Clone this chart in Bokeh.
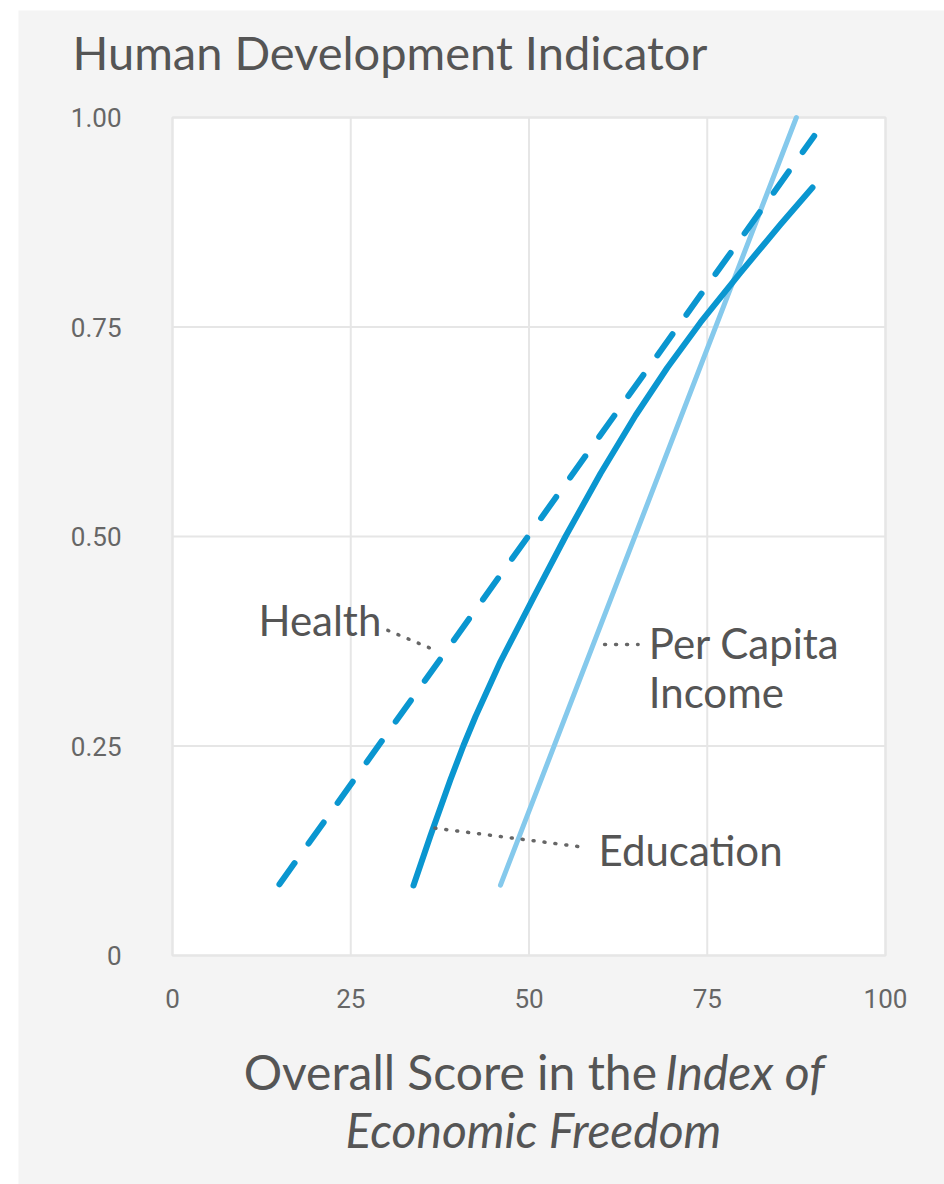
from bokeh.plotting import figure
from bokeh.models import Range1d, FixedTicker, LinearAxis, Spacer
from bokeh.layouts import column, row
from bokeh.core.properties import value
from bokeh.embed import file_html
from bokeh.resources import INLINE

# ---- data ----
x_ticks = [0, 25, 50, 75, 100]
y_ticks = [0, 0.25, 0.5, 0.75, 1.0]
y_tick_labels = ["0", "0.25", "0.50", "0.75", "1.00"]

health_x = [15.0, 90.0]
health_y = [0.085, 0.978]

education_x = [33.80, 36.19, 38.99, 40.81, 42.50, 46.00, 50.63, 55.12, 60.03, 64.94, 69.42, 74.05, 79.66, 85.27, 89.76]
education_y = [0.0835, 0.1432, 0.2100, 0.2506, 0.2852, 0.3508, 0.4272, 0.5000, 0.5752, 0.6444, 0.7017, 0.7554, 0.8150, 0.8723, 0.9165]

income_x = [46.0, 87.5]
income_y = [0.084, 1.0]

label_text = ["Health", "Education", "Per Capita", "Income"]
label_x = [12.06, 59.75, 66.8, 66.8]
label_y = [0.4009, 0.1253, 0.3735, 0.3150]

title_text = "Human Development Indicator"
xlab_1a = "Overall Score in the"
xlab_1b = "Index of"
xlab_2 = "Economic Freedom"

DARK = "#0a96d0"
LIGHT = "#85c9ec"
GRAY_TXT = "#555555"
BG = "#f4f4f4"
FONT = "Lato"

# canvas: page x 18..944, y 10..1184 ; plot box page x 172..885, y 117..955
PX_PER_X = 713 / 100.0
PX_PER_Y = 838 / 1.0
x_start, x_end = (18 - 172) / PX_PER_X, (944 - 172) / PX_PER_X
y_start, y_end = (955 - 1184) / PX_PER_Y, (955 - 10) / PX_PER_Y

p = figure(width=926, height=1174, output_backend="svg", toolbar_location=None,
           x_range=Range1d(x_start, x_end), y_range=Range1d(y_start, y_end),
           x_axis_type=None, y_axis_type=None,
           min_border_left=0, min_border_right=0, min_border_top=0, min_border_bottom=0)
p.border_fill_color = BG
p.background_fill_color = BG
p.outline_line_color = None

# white plotting area with thin border
box = p.quad(left=[x_ticks[0]], right=[x_ticks[-1]], bottom=[y_ticks[0]], top=[y_ticks[-1]],
             fill_color="white", line_color="#e4e4e4", line_width=2)
box.level = "image"
# grid lines
gx = p.segment(x0=x_ticks, y0=[y_ticks[0]] * len(x_ticks), x1=x_ticks, y1=[y_ticks[-1]] * len(x_ticks),
               line_color="#e6e6e6", line_width=2)
gy = p.segment(x0=[x_ticks[0]] * len(y_ticks), y0=y_ticks, x1=[x_ticks[-1]] * len(y_ticks), y1=y_ticks,
               line_color="#e6e6e6", line_width=2)
gx.level = "image"
gy.level = "image"

# axes fixed at the plot box edges
yax = LinearAxis(fixed_location=0, ticker=FixedTicker(ticks=y_ticks),
                 major_label_overrides={t: l for t, l in zip(y_ticks, y_tick_labels)})
xax = LinearAxis(fixed_location=0, ticker=FixedTicker(ticks=x_ticks))
for ax in (xax, yax):
    ax.axis_line_color = None
    ax.major_tick_line_color = None
    ax.minor_tick_line_color = None
    ax.major_label_text_font = "Roboto"
    ax.major_label_text_font_size = "26px"
    ax.major_label_text_color = "#666666"
yax.major_label_standoff = 45
xax.major_label_standoff = 27
p.add_layout(yax, "left")
p.add_layout(xax, "below")

# series
p.line(income_x, income_y, line_color=LIGHT, line_width=5, line_cap="round")
p.line(health_x, health_y, line_color=DARK, line_width=6, line_cap="round", line_dash="26 24")
p.line(education_x, education_y, line_color=DARK, line_width=6, line_cap="round", line_join="round")

# dotted leader lines
leaders = [([30.2, 37.2], [0.388, 0.363]),
           ([36.8, 57.9], [0.152, 0.129]),
           ([60.6, 65.3], [0.371, 0.371])]
for lx, ly in leaders:
    p.line(lx, ly, line_color="#666666", line_width=3.5, line_dash="1 10", line_cap="round")

# series labels
p.text(x=label_x, y=label_y, text=label_text, text_font=value(FONT), text_font_size="42px",
       text_color=GRAY_TXT, text_align="left", text_baseline="alphabetic")

# title
p.text(x=[-14.03], y=[1.0776], text=[title_text], text_font=value(FONT), text_font_size="47px",
       text_color=GRAY_TXT, text_align="left", text_baseline="alphabetic")

# x-axis title (two lines, partly italic)
p.text(x=[67.95], y=[-0.1384], text=[xlab_1a], text_font=value(FONT), text_font_size="48px",
       text_color=GRAY_TXT, text_align="right", text_baseline="alphabetic")
p.text(x=[69.07], y=[-0.1384], text=[xlab_1b], text_font=value(FONT), text_font_size="48px",
       text_font_style="italic", text_color=GRAY_TXT, text_align="left", text_baseline="alphabetic")
p.text(x=[50.63], y=[-0.2076], text=[xlab_2], text_font=value(FONT), text_font_size="48px",
       text_font_style="italic", text_color=GRAY_TXT, text_align="center", text_baseline="alphabetic")

layout = column(Spacer(height=10), row(Spacer(width=18), p))
open("out.html", "w").write(file_html(layout, INLINE))
